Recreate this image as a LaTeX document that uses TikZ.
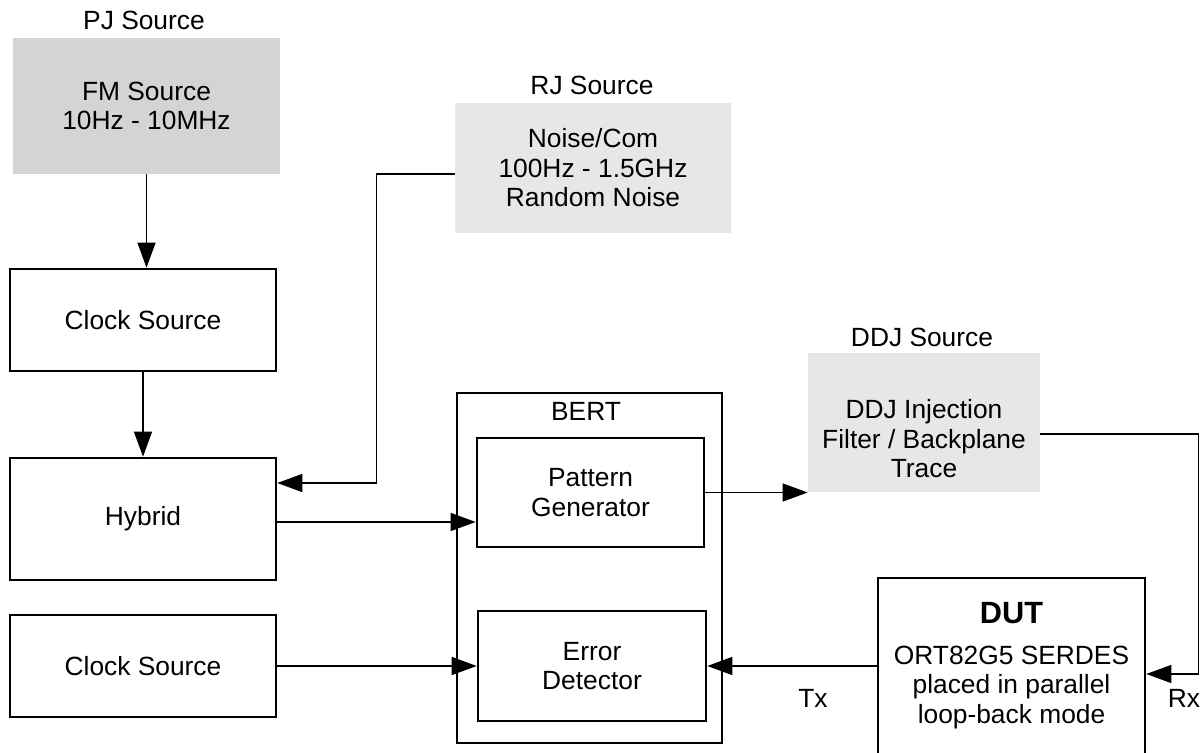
\documentclass[tikz,border=0pt]{standalone}
\usepackage{fontspec}
\setmainfont{Liberation Sans}
\usepackage{tikz}
\usetikzlibrary{shapes,arrows.meta,calc}

\definecolor{pjgrey}{HTML}{D3D4D6}
\definecolor{srcgrey}{HTML}{E6E7E8}

\tikzset{
  blk/.style={draw, line width=1.5pt, align=center},
  src/.style={fill=#1, align=center},
  conn/.style={line width=0.7pt, -{Triangle[length=0.5cm,width=0.36cm]}},
  wire/.style={line width=0.7pt}
}

\begin{document}
\begin{tikzpicture}[x=0.02cm, y=-0.02cm, font=\fontsize{15pt}{16.8pt}\selectfont]
\useasboundingbox (0,0) rectangle (1200,753);

% sources
\node (fm) [src=pjgrey, minimum width=5.34cm, minimum height=2.72cm] at (146.5,106) {FM Source\\10Hz - 10MHz};
\node (pjlbl) at (144,20) {PJ Source};
\node (rj) [src=srcgrey, minimum width=5.52cm, minimum height=2.6cm] at (593,168) {Noise/Com\\100Hz - 1.5GHz\\Random Noise};
\node (rjlbl) at (592,85) {RJ Source};
\node (ddj) [src=srcgrey, minimum width=4.64cm, minimum height=2.78cm] at (924,422.5) {};
\node (ddjtxt) [align=center] at (924,439) {DDJ Injection\\Filter / Backplane\\Trace};
\node (ddjlbl) at (922,337) {DDJ Source};

% left column
\node (clk1) [blk, minimum width=5.32cm, minimum height=2.04cm] at (143,320) {Clock Source};
\node (hyb) [blk, minimum width=5.32cm, minimum height=2.44cm] at (143,519) {Hybrid};
\node (clk2) [blk, minimum width=5.32cm, minimum height=2.04cm] at (143,666) {Clock Source};

% BERT
\node (bert) [blk, minimum width=5.3cm, minimum height=7cm] at (589.5,568) {};
\node (bertlbl) at (586,411) {BERT};
\node (pg) [blk, minimum width=4.54cm, minimum height=2.18cm] at (590.5,492.5) {Pattern\\Generator};
\node (ed) [blk, minimum width=4.56cm, minimum height=2.2cm] at (592,666) {Error\\Detector};

% DUT
\node (dut) [blk, minimum width=5.34cm, minimum height=3.84cm] at (1011.5,674) {};
\node (duthd) [font=\fontsize{17.5pt}{20pt}\selectfont\bfseries] at (1011.5,613) {DUT};
\node (duttxt) [align=center] at (1011.5,687.5) {ORT82G5 SERDES\\placed in parallel\\loop-back mode};
\node (tx) at (813,698) {Tx};
\node (rx) at (1184,698) {Rx};

% connections
\draw[conn] (fm.south) -- (fm.south |- clk1.north);
\draw[conn] (clk1) -- (hyb);
\draw[conn] ([yshift=-0.12cm]rj.west) -- ++(-78,0) |- ([yshift=0.72cm]hyb.east);
\draw[conn] ([yshift=-0.06cm]hyb.east) coordinate (h1) -- (h1 -| pg.west);
\draw[conn] (pg.east) -- (pg.east -| ddj.west);
\draw[conn] ([yshift=-0.23cm]ddj.east) -| ([xshift=1.04cm]dut.east) -- (dut.east);
\draw[conn] (ed.east -| dut.west) -- (ed.east);
\draw[conn] (clk2.east) -- (ed.west);
\end{tikzpicture}
\end{document}
